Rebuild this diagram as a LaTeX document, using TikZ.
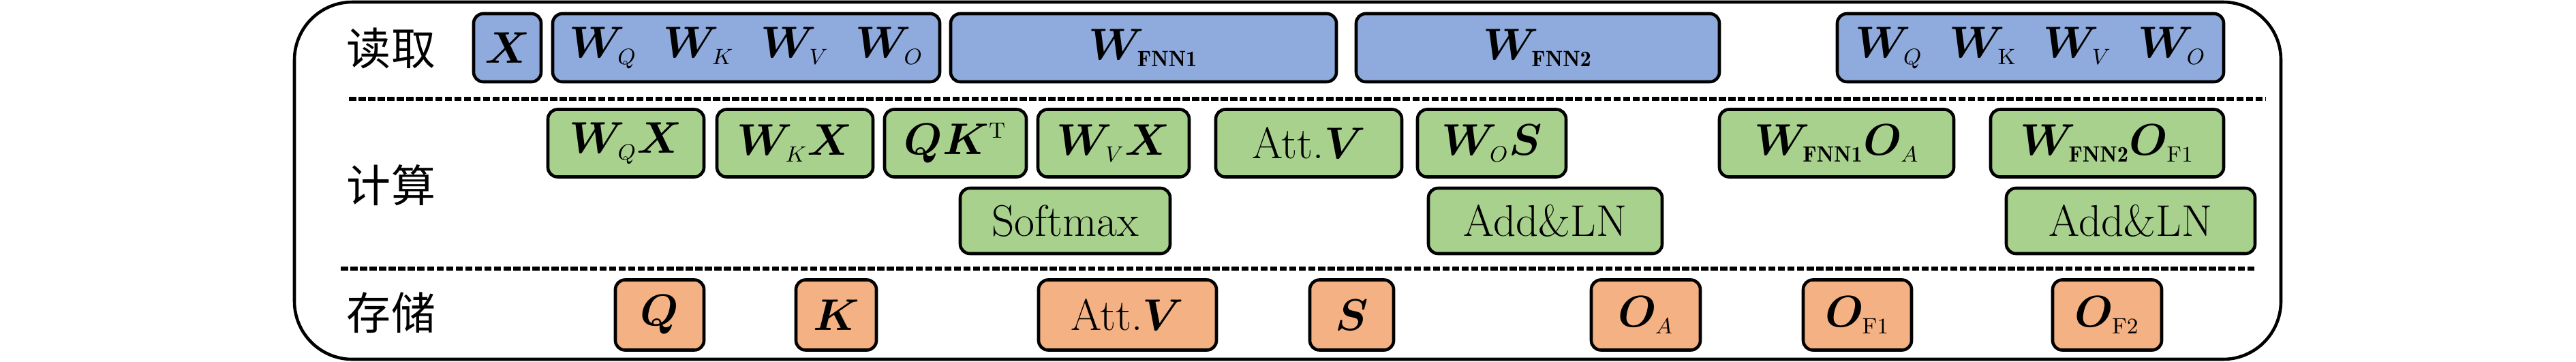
\RequirePackage{fix-cm}
\documentclass[tikz,border=0pt]{standalone}
\usepackage{amsmath}
\usepackage{bm}
\usepackage{fontspec}
\newfontfamily\cjk{Noto Sans CJK SC}
\usepackage{xcolor}
\definecolor{readblue}{HTML}{8FAADC}
\definecolor{calcgreen}{HTML}{A9D18E}
\definecolor{storeorange}{HTML}{F4B183}
\DeclareMathSizes{18.5}{18.5}{9.25}{7}
\usetikzlibrary{backgrounds}

\begin{document}
\begin{tikzpicture}[
	box/.style = {draw, line width = 1.3pt, rounded corners = 4pt, inner sep = 0pt, font = \fontsize{18.5}{22}\selectfont},
	readbox/.style = {box, fill = readblue, minimum height = 1cm},
	calcbox/.style = {box, fill = calcgreen, minimum height = .99cm},
	storebox/.style = {box, fill = storeorange, minimum height = 1.03cm},
	rowlabel/.style = {font = \fontsize{18.5}{22}\selectfont\cjk},
	sep/.style = {line width = 1.5pt, dash pattern = on 3pt off 1pt}
]
	\useasboundingbox (0,0) rectangle (37.8,5.3);
	\draw[line width = 1.3pt, rounded corners = .85cm] (4.32,.03) rectangle (33.47,5.27);
	\draw[sep] (5.12,3.85) -- (33.25,3.85);
	\draw[sep] (5.00,1.36) -- (33.11,1.36);

	\node[rowlabel] (read) at (5.74,4.59) {读取};
	\node[rowlabel] (calc) at (5.74,2.58) {计算};
	\node[rowlabel] (store) at (5.74,.71) {存储};

	% read
	\node[readbox, minimum width = .99cm] (rx) at (7.445,4.6) {$\bm{X}$};
	\node[readbox, minimum width = 5.68cm] (rwa) at (10.95,4.6) {$\bm{W}_{Q}\ \ \bm{W}_{K}\ \ \bm{W}_{V}\ \ \bm{W}_{O}$};
	\node[readbox, minimum width = 5.66cm] (rf1) at (16.78,4.6) {$\bm{W}_{\mathbf{FNN1}}$};
	\node[readbox, minimum width = 5.33cm] (rf2) at (22.565,4.6) {$\bm{W}_{\mathbf{FNN2}}$};
	\node[readbox, minimum width = 5.67cm] (rwb) at (29.795,4.6) {$\bm{W}_{Q}\ \ \bm{W}_{\mathrm{K}}\ \ \bm{W}_{V}\ \ \bm{W}_{O}$};

	% calc
	\node[calcbox, minimum width = 2.29cm] (cq) at (9.185,3.2) {$\bm{W}_{Q}\bm{X}$};
	\node[calcbox, minimum width = 2.29cm] (ck) at (11.665,3.2) {$\bm{W}_{K}\bm{X}$};
	\node[calcbox, minimum width = 2.08cm] (cqk) at (14.02,3.2) {$\bm{Q}\bm{K}^{\mathrm{T}}$};
	\node[calcbox, minimum width = 2.22cm] (cv) at (16.34,3.2) {$\bm{W}_{V}\bm{X}$};
	\node[calcbox, minimum width = 2.73cm] (catt) at (19.205,3.2) {Att.$\bm{V}$};
	\node[calcbox, minimum width = 2.18cm] (cs) at (21.89,3.2) {$\bm{W}_{O}\bm{S}$};
	\node[calcbox, minimum width = 3.44cm] (cf1) at (26.95,3.2) {$\bm{W}_{\mathbf{FNN1}}\bm{O}_{A}$};
	\node[calcbox, minimum width = 3.42cm] (cf2) at (30.92,3.2) {$\bm{W}_{\mathbf{FNN2}}\bm{O}_{\mathrm{F1}}$};
	\node[calcbox, minimum width = 3.08cm, minimum height = .96cm] (csm) at (15.63,2.06) {Softmax};
	\node[calcbox, minimum width = 3.43cm, minimum height = .96cm] (cln1) at (22.675,2.06) {Add\&LN};
	\node[calcbox, minimum width = 3.65cm, minimum height = .96cm] (cln2) at (31.265,2.06) {Add\&LN};

	% store
	\node[storebox, minimum width = 1.3cm] (sq) at (9.68,.68) {$\bm{Q}$};
	\node[storebox, minimum width = 1.18cm] (sk) at (12.27,.68) {$\bm{K}$};
	\node[storebox, minimum width = 2.61cm] (satt) at (16.545,.68) {Att.$\bm{V}$};
	\node[storebox, minimum width = 1.23cm] (ss) at (19.835,.68) {$\bm{S}$};
	\node[storebox, minimum width = 1.6cm] (soa) at (24.15,.68) {$\bm{O}_{A}$};
	\node[storebox, minimum width = 1.59cm] (sf1) at (27.255,.68) {$\bm{O}_{\mathrm{F1}}$};
	\node[storebox, minimum width = 1.6cm] (sf2) at (30.92,.68) {$\bm{O}_{\mathrm{F2}}$};
\end{tikzpicture}
\end{document}
